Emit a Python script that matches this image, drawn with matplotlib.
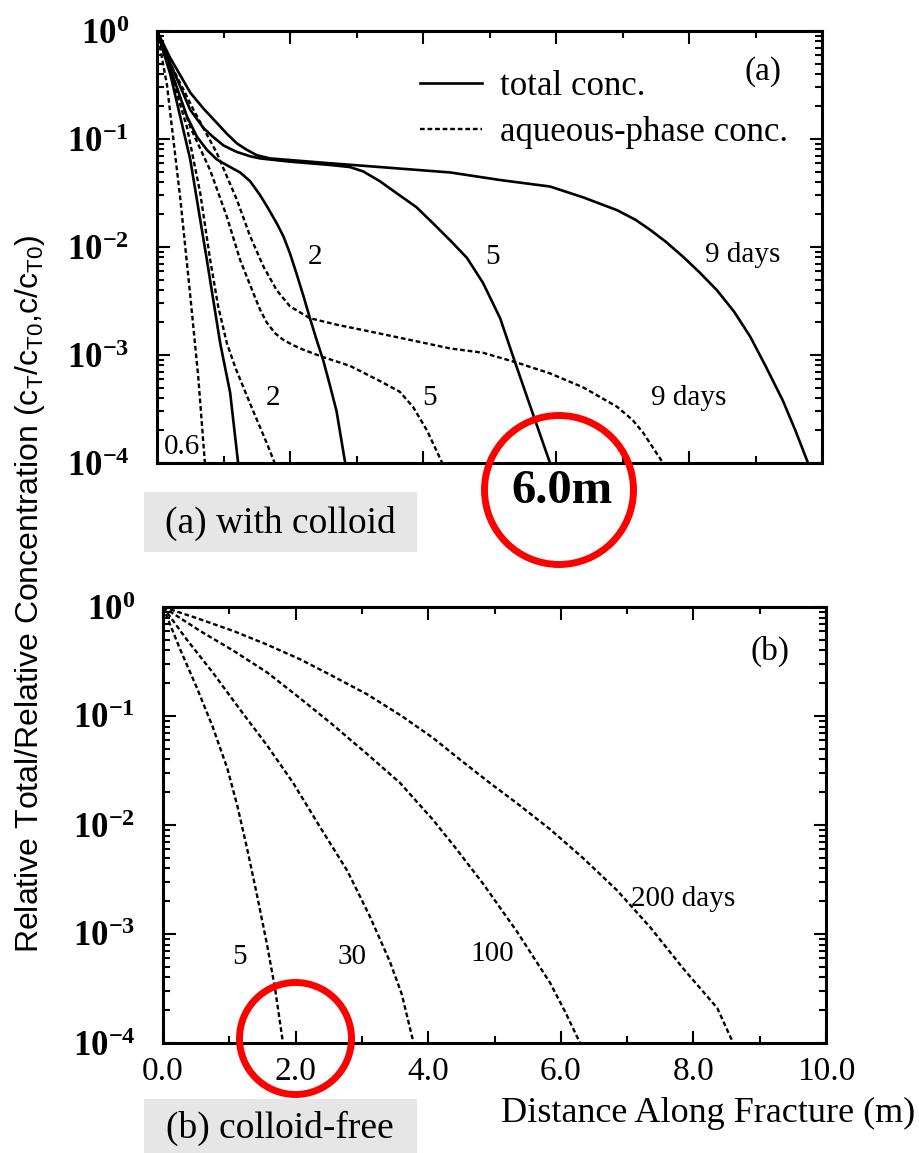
import numpy as np
import matplotlib
matplotlib.use("Agg")
import matplotlib.pyplot as plt
from matplotlib.patches import Circle, Rectangle
from matplotlib.ticker import LogLocator, NullFormatter, MultipleLocator

plt.rcParams["font.family"] = ["Liberation Serif", "DejaVu Serif"]
plt.rcParams["mathtext.fontset"] = "custom"
plt.rcParams["mathtext.rm"] = "Liberation Serif"

# ---- panel (a): with colloid ----
# total concentration (solid)
tot_06_x = [0, 0.2, 0.5, 0.75, 0.95, 1.1, 1.22]
tot_06_y = [1.0, 0.398, 0.0646, 7.59e-3, 1.29e-3, 4.47e-4, 1.0e-4]
tot_2_x = [0, 0.2, 0.45, 0.6, 0.75, 0.9, 1.1, 1.25, 1.4, 1.55, 1.65, 1.8, 1.9, 2.0, 2.1, 2.2,
           2.3, 2.4, 2.5, 2.6, 2.7, 2.83]
tot_2_y = [1.0, 0.447, 0.162, 0.105, 0.0794, 0.0646, 0.055, 0.049, 0.0407, 0.0302, 0.024, 0.0166,
           0.0126, 8.71e-3, 5.62e-3, 3.55e-3, 2.19e-3, 1.38e-3, 8.91e-4, 5.25e-4, 3.02e-4, 1.0e-4]
tot_5_x = [0, 0.2, 0.5, 0.7, 0.84, 1.0, 1.2, 1.4, 1.55, 2.0, 2.6, 2.9, 3.1, 3.35, 3.6, 3.9, 4.15,
           4.41, 4.66, 4.9, 5.16, 5.38, 5.65, 5.91]
tot_5_y = [1.0, 0.501, 0.186, 0.126, 0.105, 0.0871, 0.0759, 0.0692, 0.0661, 0.0617, 0.0575, 0.055,
           0.0501, 0.0407, 0.0316, 0.0234, 0.0166, 0.0115, 7.94e-3, 4.68e-3, 2.19e-3, 8.71e-4,
           2.88e-4, 1.0e-4]
tot_9_x = [0, 0.2, 0.5, 0.7, 0.9, 1.05, 1.2, 1.35, 1.5, 1.7, 1.9, 2.5, 3.35, 4.41, 5.16, 5.91,
           6.41, 6.92, 7.2, 7.41, 7.65, 7.91, 8.15, 8.42, 8.68, 8.92, 9.15, 9.41, 9.6, 9.79]
tot_9_y = [1.0, 0.562, 0.269, 0.191, 0.141, 0.112, 0.0912, 0.0794, 0.0708, 0.0661, 0.0646, 0.0603,
           0.055, 0.049, 0.0417, 0.0363, 0.0288, 0.0219, 0.0178, 0.0145, 0.0112, 8.13e-3, 5.89e-3,
           3.98e-3, 2.51e-3, 1.48e-3, 7.94e-4, 3.8e-4, 2.0e-4, 1.0e-4]

# aqueous-phase concentration (dashed)
aq_06_x = [0, 0.15, 0.35, 0.5, 0.62, 0.72]
aq_06_y = [1.0, 0.316, 0.0282, 3.55e-3, 6.31e-4, 1.0e-4]
aq_2_x = [0, 0.2, 0.45, 0.65, 0.8, 0.92, 1.05, 1.18, 1.3, 1.42, 1.55, 1.66, 1.77]
aq_2_y = [1.0, 0.417, 0.129, 0.0316, 7.59e-3, 2.82e-3, 1.29e-3, 7.59e-4, 5.01e-4, 3.31e-4,
          2.14e-4, 1.48e-4, 1.0e-4]
aq_5_x = [0, 0.2, 0.5, 0.8, 1.05, 1.25, 1.45, 1.55, 1.65, 1.78, 1.9, 2.05, 2.2, 2.5, 2.9, 3.35,
          3.65, 3.85, 4.06, 4.29]
aq_5_y = [1.0, 0.447, 0.129, 0.0513, 0.0191, 7.59e-3, 3.72e-3, 2.63e-3, 2.0e-3, 1.58e-3, 1.38e-3,
          1.23e-3, 1.12e-3, 9.55e-4, 7.94e-4, 5.75e-4, 4.57e-4, 3.31e-4, 2.0e-4, 1.0e-4]
aq_9_x = [0, 0.2, 0.55, 0.9, 1.2, 1.4, 1.6, 1.8, 2.0, 2.3, 2.7, 3.35, 4.41, 4.9, 5.41, 5.91, 6.41,
          6.92, 7.15, 7.31, 7.45, 7.61]
aq_9_y = [1.0, 0.501, 0.186, 0.0741, 0.0275, 0.0126, 6.61e-3, 3.98e-3, 2.82e-3, 2.19e-3, 1.91e-3,
          1.58e-3, 1.15e-3, 1.05e-3, 8.51e-4, 6.76e-4, 5.01e-4, 3.31e-4, 2.51e-4, 1.91e-4,
          1.41e-4, 1.0e-4]

# ---- panel (b): colloid-free ----
free_5_x = [0, 0.26, 0.51, 0.75, 0.97, 1.12, 1.27, 1.42, 1.57, 1.69, 1.81]
free_5_y = [1.0, 0.407, 0.182, 0.0794, 0.0331, 0.0151, 6.03e-3, 2.24e-3, 7.94e-4, 3.16e-4, 1.0e-4]
free_30_x = [0, 0.36, 0.75, 1.16, 1.57, 1.96, 2.37, 2.78, 3.12, 3.42, 3.6, 3.78]
free_30_y = [1.0, 0.501, 0.251, 0.115, 0.0537, 0.0245, 9.55e-3, 3.8e-3, 1.45e-3, 5.62e-4, 2.82e-4,
             1.0e-4]
free_100_x = [0, 0.56, 1.06, 1.57, 2.07, 2.56, 3.08, 3.57, 4.07, 4.4, 4.83, 5.34, 5.84, 6.07, 6.29]
free_100_y = [1.0, 0.603, 0.398, 0.251, 0.145, 0.0832, 0.0447, 0.0245, 0.0112, 6.31e-3, 2.88e-3,
              1.05e-3, 3.55e-4, 1.91e-4, 1.0e-4]
free_200_x = [0, 0.5, 1.06, 1.55, 2.07, 2.55, 3.08, 3.6, 4.07, 4.48, 4.9, 5.34, 5.84, 6.33, 6.85,
              7.35, 7.85, 8.36, 8.6]
free_200_y = [1.0, 0.794, 0.603, 0.457, 0.331, 0.234, 0.158, 0.1, 0.0631, 0.0398, 0.0251, 0.0158,
              9.12e-3, 5.01e-3, 2.51e-3, 1.15e-3, 4.79e-4, 2.09e-4, 1.0e-4]

y_ticks = [1, 1e-1, 1e-2, 1e-3, 1e-4]
y_tick_labels = [r"$\mathregular{10^{0}}$", r"$\mathregular{10^{-1}}$", r"$\mathregular{10^{-2}}$",
                 r"$\mathregular{10^{-3}}$", r"$\mathregular{10^{-4}}$"]
x_ticks = [0, 2, 4, 6, 8, 10]
x_tick_labels = ["0.0", "2.0", "4.0", "6.0", "8.0", "10.0"]

W, H = 919, 1153
fig = plt.figure(figsize=(W / 100, H / 100), dpi=100)

SOLID = dict(color="black", lw=1.9, linestyle="-")
DASH = dict(color="black", lw=1.7, linestyle=(0, (2.0, 1.2)))


def style_axes(ax, show_xlabels):
    ax.set_yscale("log")
    ax.set_xlim(0, 10)
    ax.set_ylim(1e-4, 1)
    ax.set_yticks(y_ticks, y_tick_labels)
    ax.yaxis.set_minor_locator(LogLocator(base=10, subs=np.arange(2, 10)))
    ax.yaxis.set_minor_formatter(NullFormatter())
    ax.set_xticks(x_ticks, x_tick_labels if show_xlabels else [])
    ax.xaxis.set_minor_locator(MultipleLocator(1))
    ax.tick_params(which="both", direction="in", top=True, right=True, width=1.5)
    ax.tick_params(which="major", length=9)
    ax.tick_params(which="minor", length=5)
    ax.tick_params(axis="y", pad=20, labelsize=25)
    ax.tick_params(axis="x", pad=10, labelsize=24)
    for lab in ax.get_yticklabels():
        lab.set_fontweight("bold")
    for sp in ax.spines.values():
        sp.set_linewidth(2.2)


# panel (a)
ax1 = fig.add_axes([157 / W, 1 - 463 / H, (822 - 157) / W, (463 - 31) / H])
ax1.plot(tot_06_x, tot_06_y, **SOLID)
ax1.plot(tot_2_x, tot_2_y, **SOLID)
ax1.plot(tot_5_x, tot_5_y, **SOLID)
ax1.plot(tot_9_x, tot_9_y, label="total conc.", **SOLID)
ax1.plot(aq_06_x, aq_06_y, **DASH)
ax1.plot(aq_2_x, aq_2_y, **DASH)
ax1.plot(aq_5_x, aq_5_y, **DASH)
ax1.plot(aq_9_x, aq_9_y, label="aqueous-phase conc.", **DASH)
style_axes(ax1, False)

ax1.legend(loc="upper left", bbox_to_anchor=(0.395, 0.91), frameon=False,
           prop={"family": "Liberation Serif", "size": 25}, handlelength=1.8,
           handletextpad=0.5, labelspacing=0.38, borderpad=0, borderaxespad=0)

lab_fs = 21
ax1.text(0.38, 1.4e-4, "0.6", fontsize=lab_fs, ha="center", va="center")
ax1.text(2.38, 8.1e-3, "2", fontsize=lab_fs, ha="center", va="center")
ax1.text(1.75, 4.0e-4, "2", fontsize=lab_fs, ha="center", va="center")
ax1.text(5.05, 8.1e-3, "5", fontsize=lab_fs, ha="center", va="center")
ax1.text(4.1, 4.0e-4, "5", fontsize=lab_fs, ha="center", va="center")
ax1.text(8.8, 8.5e-3, "9 days", fontsize=lab_fs, ha="center", va="center")
ax1.text(8.0, 4.0e-4, "9 days", fontsize=lab_fs, ha="center", va="center")
ax1.text(0.911, 0.905, "(a)", fontsize=24, ha="center", va="center", transform=ax1.transAxes)

# panel (b)
ax2 = fig.add_axes([163 / W, 1 - 1043 / H, (826 - 163) / W, (1043 - 607) / H])
ax2.plot(free_5_x, free_5_y, **DASH)
ax2.plot(free_30_x, free_30_y, **DASH)
ax2.plot(free_100_x, free_100_y, **DASH)
ax2.plot(free_200_x, free_200_y, **DASH)
style_axes(ax2, True)

ax2.text(1.16, 6.2e-4, "5", fontsize=lab_fs, ha="center", va="center")
ax2.text(2.85, 6.2e-4, "30", fontsize=lab_fs, ha="center", va="center")
ax2.text(4.96, 6.5e-4, "100", fontsize=lab_fs, ha="center", va="center")
ax2.text(7.84, 2.1e-3, "200 days", fontsize=lab_fs, ha="center", va="center")
ax2.text(0.916, 0.899, "(b)", fontsize=24, ha="center", va="center", transform=ax2.transAxes)

ax2.set_xlabel("Distance Along Fracture (m)", fontsize=26)
ax2.xaxis.set_label_coords((915 - 163) / (826 - 163), 1 - (1113 - 607) / (1043 - 607))
ax2.xaxis.label.set_horizontalalignment("right")
ax2.xaxis.label.set_verticalalignment("center")

fig.text(30 / W, 1 - 594 / H,
         r"Relative Total/Relative Concentration (c$\mathregular{_T}$/c$\mathregular{_{T0}}$,c/c$\mathregular{_{T0}}$)",
         rotation=90, ha="center", va="center", fontsize=23, family="Liberation Sans")

# annotation overlay in pixel coordinates
ov = fig.add_axes([0, 0, 1, 1], zorder=10)
ov.set_xlim(0, W)
ov.set_ylim(H, 0)
ov.axis("off")
ov.add_patch(Rectangle((144, 492), 273, 60, facecolor="#e6e6e6", edgecolor="none"))
ov.add_patch(Rectangle((144, 1099), 273, 54, facecolor="#e6e6e6", edgecolor="none"))
ov.text(280, 523, "(a) with colloid", fontsize=27, ha="center", va="center")
ov.text(280, 1128, "(b) colloid-free", fontsize=27, ha="center", va="center")
ov.add_patch(Circle((559, 490), 74.5, fill=False, edgecolor="#ff0000", lw=5))
ov.add_patch(Circle((295.5, 1038.5), 56, fill=False, edgecolor="#ff0000", lw=5))
ov.text(562, 491, "6.0m", fontsize=35, fontweight="bold", ha="center", va="center")

fig.savefig("out.png", dpi=100)
